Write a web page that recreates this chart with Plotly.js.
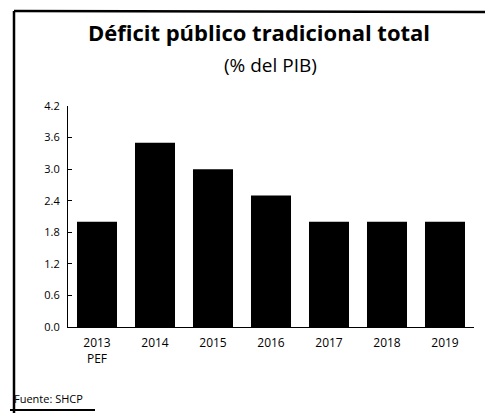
<!DOCTYPE html>
<html>
<head>
<meta charset="utf-8">
<script src="https://cdn.plot.ly/plotly-3.0.1.min.js"></script>
<style>
html,body{margin:0;padding:0;background:#fff;}
#chart{width:485px;height:413px;}
</style>
</head>
<body>
<div id="chart"></div>
<script>
const categories = ["2013<br>PEF", "2014", "2015", "2016", "2017", "2018", "2019"];
const deficit = [2.0, 3.5, 3.0, 2.5, 2.0, 2.0, 2.0];
const yTicks = [0.0, 0.6, 1.2, 1.8, 2.4, 3.0, 3.6, 4.2];
const yTickText = ["0.0", "0.6", "1.2", "1.8", "2.4", "3.0", "3.6", "4.2"];
const titleText = "Déficit público tradicional total";
const subtitleText = "(% del PIB)";
const sourceText = "Fuente: SHCP";

const W = 485, H = 413;
const m = {l: 68, r: 11, t: 106, b: 86};
const pw = W - m.l - m.r, ph = H - m.t - m.b;
const px = x => (x - m.l) / pw;
const py = y => (H - m.b - y) / ph;

const font = "'Open Sans', 'Noto Sans', sans-serif";

const trace = {
  type: "bar",
  x: categories,
  y: deficit,
  marker: {color: "#000000", line: {width: 0}},
  hoverinfo: "skip"
};

const layout = {
  width: W, height: H,
  margin: m,
  paper_bgcolor: "#ffffff",
  plot_bgcolor: "#ffffff",
  showlegend: false,
  bargap: 0.31,
  font: {family: font, color: "#000000", size: 11},
  title: {
    text: "<b>" + titleText + "</b>",
    font: {family: font, size: 22, color: "#000000"},
    x: 259 / W, xanchor: "center", xref: "container",
    y: 1 - 33 / H, yanchor: "middle", yref: "container"
  },
  xaxis: {
    type: "category",
    range: [-0.5, 6.5],
    showline: true, linecolor: "#000000", linewidth: 1,
    ticks: "", showgrid: false, zeroline: false,
    tickfont: {family: font, size: 12, color: "#000000"},
    ticklabelstandoff: 5,
    fixedrange: true
  },
  yaxis: {
    range: [0, 4.2],
    tickvals: yTicks, ticktext: yTickText,
    showline: true, linecolor: "#000000", linewidth: 1,
    ticks: "inside", ticklen: 4, tickcolor: "#000000", tickwidth: 1,
    showgrid: false, zeroline: false,
    tickfont: {family: font, size: 11, color: "#000000"},
    ticklabelstandoff: 5,
    fixedrange: true
  },
  annotations: [
    {text: subtitleText, xref: "paper", yref: "paper", x: px(270), y: py(65),
     xanchor: "center", yanchor: "middle", showarrow: false,
     font: {family: font, size: 19, color: "#000000"}},
    {text: sourceText, xref: "paper", yref: "paper", x: px(12), y: py(398),
     xanchor: "left", yanchor: "middle", showarrow: false,
     font: {family: font, size: 11, color: "#000000"}}
  ],
  shapes: [
    {type: "line", xref: "paper", yref: "paper", x0: px(14), x1: px(14), y0: py(11), y1: py(413),
     line: {color: "#000000", width: 2.5}},
    {type: "line", xref: "paper", yref: "paper", x0: px(14), x1: px(485), y0: py(11), y1: py(12),
     line: {color: "#000000", width: 2.5}},
    {type: "line", xref: "paper", yref: "paper", x0: px(10), x1: px(95), y0: py(410), y1: py(410),
     line: {color: "#000000", width: 2}}
  ]
};

Plotly.newPlot("chart", [trace], layout, {displayModeBar: false, staticPlot: true});
</script>
</body>
</html>
